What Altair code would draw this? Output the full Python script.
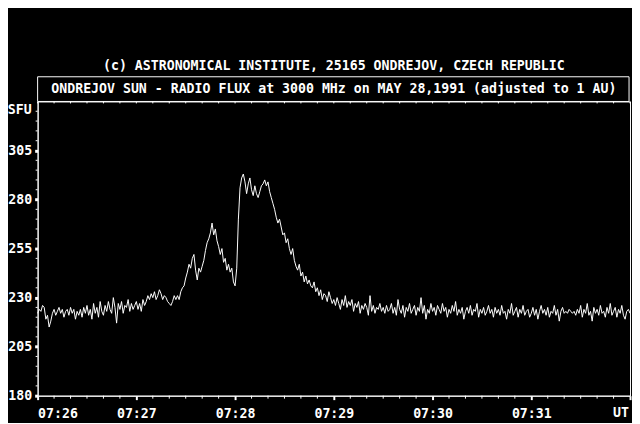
import altair as alt
import pandas as pd

# Radio flux (SFU), one sample per second from 07:26:00 to 07:32:00 UT
flux = [
    222, 224, 223, 226, 225, 219, 221, 215, 218, 222,
    224, 221, 223, 225, 222, 224, 220, 223, 224, 221,
    225, 222, 224, 219, 223, 221, 224, 220, 225, 222,
    226, 221, 224, 219, 227, 222, 225, 220, 228, 223,
    221, 226, 223, 228, 224, 222, 230, 225, 217, 227,
    224, 228, 222, 226, 225, 229, 223, 227, 224, 226,
    228, 224, 227, 223, 229, 226, 228, 231, 229, 232,
    230, 233, 229, 231, 234, 232, 229, 231, 230, 228,
    227, 226, 228, 231, 229, 231, 229, 233, 235, 236,
    240, 243, 247, 245, 250, 252, 244, 239, 245, 243,
    246, 249, 254, 258, 260, 263, 268, 262, 265, 259,
    256, 252, 255, 248, 250, 244, 247, 243, 245, 238,
    236, 245, 270, 286, 291, 293, 289, 283, 288, 291,
    285, 282, 287, 283, 281, 284, 287, 288, 290, 287,
    289, 284, 281, 278, 275, 271, 268, 270, 266, 262,
    263, 258, 260, 255, 252, 255, 249, 246, 244, 247,
    241, 243, 238, 241, 237, 239, 236, 235, 238, 233,
    235, 231, 234, 229, 232, 231, 228, 233, 230, 227,
    229, 226, 230, 227, 224, 229, 226, 231, 225, 228,
    226, 229, 223, 227, 225, 228, 222, 226, 224, 227,
    225, 221, 231, 223, 226, 222, 225, 224, 227, 223,
    225, 222, 226, 223, 224, 227, 222, 225, 221, 229,
    224, 222, 226, 220, 225, 223, 227, 222, 224, 226,
    221, 225, 223, 230, 222, 226, 219, 224, 222, 227,
    223, 225, 221, 226, 224, 222, 227, 223, 225, 220,
    224, 222, 226, 223, 228, 221, 224, 222, 225, 219,
    223, 225, 222, 226, 221, 224, 223, 227, 220, 224,
    222, 225, 221, 223, 226, 222, 224, 220, 225, 222,
    224, 221, 226, 222, 223, 219, 224, 222, 227, 221,
    223, 225, 220, 224, 222, 226, 221, 223, 224, 220,
    222, 225, 221, 224, 219, 223, 226, 222, 224, 221,
    225, 220, 223, 222, 226, 221, 224, 218, 223, 225,
    222, 223, 222, 224, 223, 222, 223, 221, 224, 222,
    226, 220, 224, 222, 227, 221, 223, 218, 225, 222,
    224, 221, 226, 222, 223, 220, 225, 222, 227, 221,
    223, 225, 220, 224, 222, 226, 221, 219, 223, 224,
    222,
]
seconds = list(range(len(flux)))

x_major = [0, 60, 120, 180, 240, 300, 360]
x_minor = [s for s in range(0, 361, 10) if s % 60 != 0]
y_major = [180, 205, 230, 255, 280, 305]
y_minor = [v for v in range(185, 330, 5) if (v - 180) % 25 != 0]

title1 = "(c) ASTRONOMICAL INSTITUTE, 25165 ONDREJOV, CZECH REPUBLIC"
title2 = "ONDREJOV SUN - RADIO FLUX at 3000 MHz on MAY 28,1991 (adjusted to 1 AU)"

FONT = "DejaVu Sans Mono"
FS = 13.4
W, H = 600, 298
LABEL_PAD = 7

xs = alt.Scale(domain=[0, 360], nice=False, zero=False)
ys = alt.Scale(domain=[180, 330], nice=False, zero=False)

df = pd.DataFrame({"s": seconds, "flux": flux})

line = alt.Chart(df).mark_line(color="white", strokeWidth=1, interpolate="linear").encode(
    x=alt.X("s:Q", scale=xs, axis=alt.Axis(
        values=x_major, title=None, tickSize=4, tickWidth=2, tickColor="white",
        domainColor="white", labelColor="white", labelFont=FONT, labelFontSize=FS,
        labelFontWeight="bold", labelPadding=LABEL_PAD, labelBaseline="top", grid=False,
        labelExpr="datum.value == 360 ? '' : '07:' + (26 + datum.value / 60)",
    )),
    y=alt.Y("flux:Q", scale=ys, axis=alt.Axis(
        values=y_major, title=None, tickSize=3, tickWidth=3, tickColor="white",
        domainColor="white", labelColor="white", labelFont=FONT, labelFontSize=FS,
        labelFontWeight="bold", labelPadding=3, grid=False,
    )),
)

xminor_df = pd.DataFrame({"s": x_minor})
xminor_bottom = alt.Chart(xminor_df).mark_rule(color="white", strokeWidth=1).encode(
    x=alt.X("s:Q", scale=xs), y=alt.value(H), y2=alt.value(H + 3)
)
xtop_df = pd.DataFrame({"s": x_minor + x_major})
xminor_top = alt.Chart(xtop_df).mark_rule(color="white", strokeWidth=1).encode(
    x=alt.X("s:Q", scale=xs), y=alt.value(0), y2=alt.value(2)
)
yminor_df = pd.DataFrame({"v": y_minor})
yminor = alt.Chart(yminor_df).mark_rule(color="white", strokeWidth=1).encode(
    y=alt.Y("v:Q", scale=ys), x=alt.value(-2), x2=alt.value(0)
)

box = alt.Chart(pd.DataFrame({"a": [0]})).mark_rect(
    fillOpacity=0, stroke="white", strokeWidth=1
).encode(x=alt.value(0), x2=alt.value(W - 1), y=alt.value(-25), y2=alt.value(0))

def label(text, x, y, align="center", baseline="middle"):
    return alt.Chart(pd.DataFrame({"t": [text]})).mark_text(
        color="white", font=FONT, fontSize=FS, fontWeight="bold",
        align=align, baseline=baseline
    ).encode(text="t:N", x=alt.value(x), y=alt.value(y))

t1 = label(title1, 300, -36)
t2 = label(title2, 300, -13)
sfu = label("SFU", -6, 9, align="right")
ut = label("UT", W - 1, H + 4 + LABEL_PAD, align="right", baseline="top")

chart = alt.layer(
    line, xminor_bottom, xminor_top, yminor, box, t1, t2, sfu, ut
).properties(
    width=W, height=H,
    autosize=alt.AutoSizeParams(type="none"),
    padding={"left": 30, "top": 92, "right": 2, "bottom": 25},
    background="black",
).configure_view(stroke="white", strokeWidth=1)

chart.save("out.html", embed_options={"renderer": "svg", "actions": False})
